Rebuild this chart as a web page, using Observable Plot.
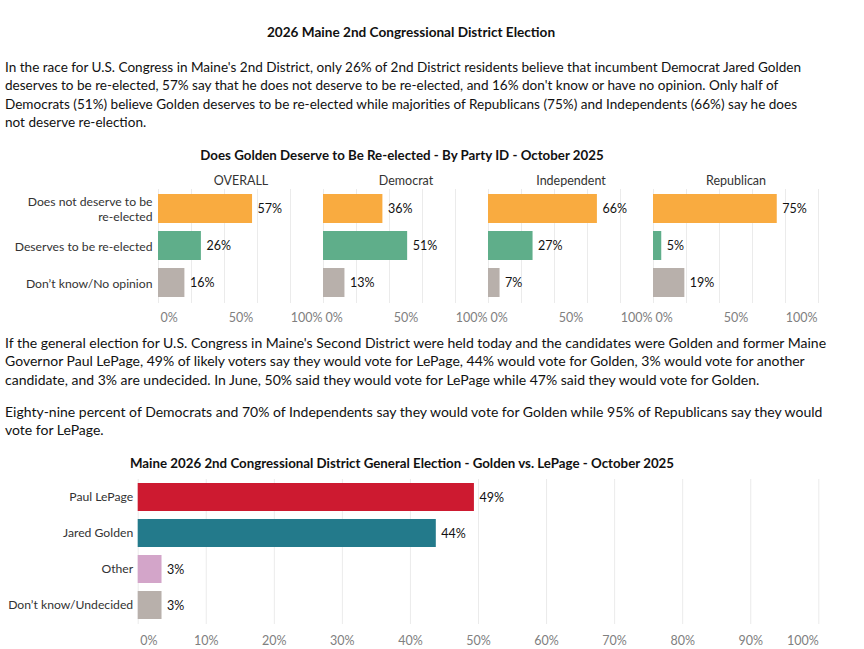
<!DOCTYPE html>
<html><head><meta charset="utf-8">
<script src="https://cdn.jsdelivr.net/npm/d3@7"></script>
<script src="https://cdn.jsdelivr.net/npm/@observablehq/plot@0.6"></script>
<style>
body{margin:0;background:#fff;}
#root{position:relative;width:864px;height:649px;overflow:hidden;font-family:Lato,sans-serif;}
.t{position:absolute;white-space:nowrap;color:#111;}
.c{transform:translateX(-50%);font-weight:bold;font-size:13.3px;line-height:18px;}
.p{left:5px;font-size:14px;line-height:18.3px;}
.chart{position:absolute;left:0;}
</style></head><body><div id="root">
<div class="t c" style="left:411px;top:23px;font-size:13.6px;">2026 Maine 2nd Congressional District Election</div>
<div class="t p" style="top:58px;font-size:13.55px;">In the race for U.S. Congress in Maine's 2nd District, only 26% of 2nd District residents believe that incumbent Democrat Jared Golden<br>deserves to be re-elected, 57% say that he does not deserve to be re-elected, and 16% don't know or have no opinion. Only half of<br>Democrats (51%) believe Golden deserves to be re-elected while majorities of Republicans (75%) and Independents (66%) say he does<br>not deserve re-election.</div>
<div class="t c" style="left:402px;top:146px;">Does Golden Deserve to Be Re-elected - By Party ID - October 2025</div>
<div class="chart" id="c1" style="top:165px;"></div>
<div class="t p" style="top:334px;">If the general election for U.S. Congress in Maine's Second District were held today and the candidates were Golden and former Maine<br>Governor Paul LePage, 49% of likely voters say they would vote for LePage, 44% would vote for Golden, 3% would vote for another<br>candidate, and 3% are undecided. In June, 50% said they would vote for LePage while 47% said they would vote for Golden.</div>
<div class="t p" style="top:403px;">Eighty-nine percent of Democrats and 70% of Independents say they would vote for Golden while 95% of Republicans say they would<br>vote for LePage.</div>
<div class="t c" style="left:402px;top:454px;">Maine 2026 2nd Congressional District General Election - Golden vs. LePage - October 2025</div>
<div class="chart" id="c2" style="top:470px;"></div>
</div>
<script>
// ---- Chart 1 data ----
const groups = ["OVERALL", "Democrat", "Independent", "Republican"];
const responses = ["Does not deserve to be re-elected", "Deserves to be re-elected", "Don’t know/No opinion"];
const notDeserve = [57, 36, 66, 75];
const deserve = [26, 51, 27, 5];
const dontKnow = [16, 13, 7, 19];
const responseColors = ["#F9AB40", "#5FAE8A", "#B8B0AB"];
const tickLabels1 = [0, 50, 100];
const gridTicks1 = [0, 20, 40, 60, 80, 100];

// ---- Chart 2 data ----
const candidates = ["Paul LePage", "Jared Golden", "Other", "Don’t know/Undecided"];
const voteShare = [49.4, 43.8, 3.5, 3.5];
const voteLabels = ["49%", "44%", "3%", "3%"];
const candidateColors = ["#CD1A30", "#237A8B", "#D3A5C9", "#B8B0AB"];
const ticks2 = [0, 10, 20, 30, 40, 50, 60, 70, 80, 90, 100];

const rows1 = groups.flatMap((g, i) => [
  {group: g, response: responses[0], value: notDeserve[i]},
  {group: g, response: responses[1], value: deserve[i]},
  {group: g, response: responses[2], value: dontKnow[i]}
]);
const wrapLabel = d => d === responses[0] ? "Does not deserve to be\nre-elected" : d;
const font = {fontFamily: "Lato, sans-serif", fontSize: "12.5px", background: "transparent", overflow: "visible"};
const tickColor = "#808080";

const c1 = Plot.plot({
  width: 864, height: 165,
  marginTop: 24, marginBottom: 27, marginLeft: 157.7, marginRight: 45.7,
  style: font,
  fx: {domain: groups, padding: 0, label: null},
  x: {domain: [0, 100], axis: null},
  y: {domain: responses, paddingInner: 0.22, paddingOuter: 0.11, insetTop: 1, insetBottom: 2, label: null, axis: null},
  color: {domain: responses, range: responseColors},
  marks: [
    Plot.ruleX(gridTicks1, {stroke: "#ebebeb", strokeWidth: 1}),
    Plot.barX(rows1, {fx: "group", y: "response", x: "value", fill: "response"}),
    Plot.text(rows1, {fx: "group", y: "response", x: "value", text: d => d.value + "%", textAnchor: "start", dx: 5, fill: "#111"}),
    Plot.axisY({tickSize: 0, tickPadding: 6, tickFormat: wrapLabel, fill: "#333", lineHeight: 1.2, fontSize: 12.2}),
    Plot.axisFx({anchor: "top", tickSize: 0, tickPadding: 5, label: null, fill: "#333"}),
    Plot.text(tickLabels1.filter(d => d === 0), {x: d => d, text: d => d + "%", frameAnchor: "bottom", lineAnchor: "middle", textAnchor: "start", dx: 2, dy: 14, fill: tickColor}),
    Plot.text(tickLabels1.filter(d => d > 0 && d < 100), {x: d => d, text: d => d + "%", frameAnchor: "bottom", lineAnchor: "middle", textAnchor: "middle", dy: 14, fill: tickColor}),
    Plot.text(tickLabels1.filter(d => d === 100), {x: d => d, text: d => d + "%", frameAnchor: "bottom", lineAnchor: "middle", textAnchor: "end", dx: -1, dy: 14, fill: tickColor})
  ]
});
document.getElementById("c1").appendChild(c1);

const rows2 = candidates.map((c, i) => ({candidate: c, value: voteShare[i], label: voteLabels[i]}));
const c2 = Plot.plot({
  width: 864, height: 179,
  marginTop: 9, marginBottom: 25, marginLeft: 137.7, marginRight: 45.7,
  style: font,
  x: {domain: [0, 100], axis: null},
  y: {domain: candidates, paddingInner: 0.21, paddingOuter: 0.105, label: null, axis: null},
  color: {domain: candidates, range: candidateColors},
  marks: [
    Plot.ruleX(ticks2, {stroke: "#ebebeb", strokeWidth: 1}),
    Plot.barX(rows2, {y: "candidate", x: "value", fill: "candidate"}),
    Plot.text(rows2, {y: "candidate", x: "value", text: "label", textAnchor: "start", dx: 5, fill: "#111"}),
    Plot.axisY({tickSize: 0, tickPadding: 5, fill: "#333", fontSize: 12.2}),
    Plot.text(ticks2.filter(d => d === 0), {x: d => d, text: d => d + "%", frameAnchor: "bottom", lineAnchor: "middle", textAnchor: "start", dx: 2, dy: 16, fill: tickColor}),
    Plot.text(ticks2.filter(d => d > 0 && d < 100), {x: d => d, text: d => d + "%", frameAnchor: "bottom", lineAnchor: "middle", textAnchor: "middle", dy: 16, fill: tickColor}),
    Plot.text(ticks2.filter(d => d === 100), {x: d => d, text: d => d + "%", frameAnchor: "bottom", lineAnchor: "middle", textAnchor: "end", dy: 16, fill: tickColor})
  ]
});
document.getElementById("c2").appendChild(c2);
</script>
</body></html>
